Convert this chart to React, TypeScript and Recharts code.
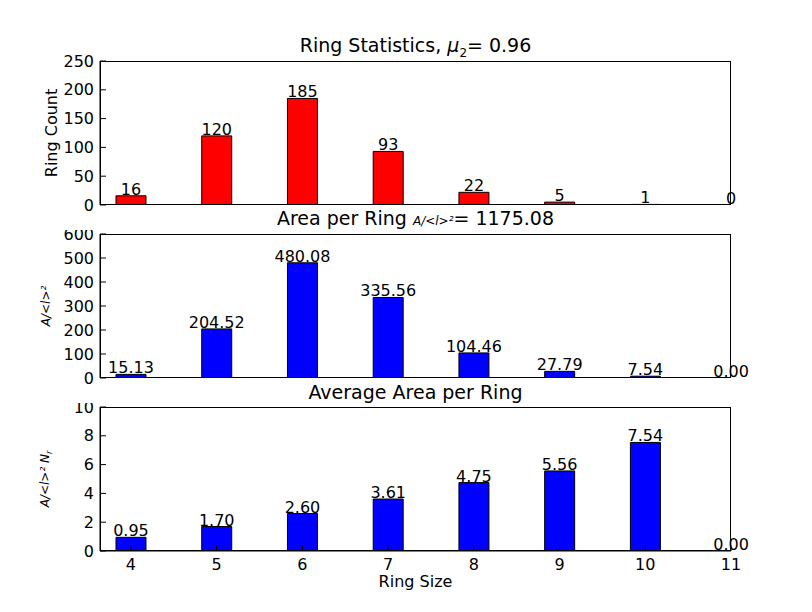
import { Bar, BarChart, LabelList, XAxis, YAxis } from 'recharts';

const ringSizes = [4, 5, 6, 7, 8, 9, 10, 11];
const ringCounts = [16, 120, 185, 93, 22, 5, 1, 0];
const areaPerRing = [15.13, 204.52, 480.08, 335.56, 104.46, 27.79, 7.54, 0.0];
const avgArea = [0.95, 1.7, 2.6, 3.61, 4.75, 5.56, 7.54, 0.0];

const countTicks = [0, 50, 100, 150, 200, 250];
const areaTicks = [0, 100, 200, 300, 400, 500, 600];
const avgTicks = [0, 2, 4, 6, 8, 10];

const FONT = '"DejaVu Sans", sans-serif';
const tickStyle = { fill: '#000', fontSize: 16, fontFamily: FONT };

type Row = { x: number; v: number };
const rows = (vals: number[]): Row[] => ringSizes.map((x, i) => ({ x, v: vals[i] }));

function Panel({
  data, top, height, mt, mb, ticks, max, color, fmt, showX,
}: {
  data: Row[]; top: number; height: number; mt: number; mb: number;
  ticks: number[]; max: number; color: string; fmt: (v: number) => string; showX: boolean;
}) {
  return (
    <div style={{ position: 'absolute', left: 0, top }}>
      <BarChart width={812} height={height} data={data} margin={{ top: mt, bottom: mb, left: 40, right: 81 }}>
        <XAxis
          dataKey="x" type="number" domain={[3.64, 11]} ticks={ringSizes} interval={0}
          allowDataOverflow stroke="#000" tickLine={showX} tick={showX ? tickStyle : false}
          height={showX ? 35 : 0} tickSize={-6} tickMargin={14}
        />
        <YAxis domain={[0, max]} ticks={ticks} interval={0} stroke="#000" tick={tickStyle} tickSize={-6}
          tickMargin={12} width={60} allowDataOverflow />
        <Bar dataKey="v" fill={color} stroke="#000" barSize={30} minPointSize={0.3} isAnimationActive={false}>
          <LabelList dataKey="v" position="top" offset={1} formatter={(v: any) => fmt(Number(v))}
            style={{ fill: '#000', fontSize: 16, fontFamily: FONT }} />
        </Bar>
      </BarChart>
    </div>
  );
}

const text = (s: React.CSSProperties) => ({
  position: 'absolute' as const, fontFamily: FONT, color: '#000', whiteSpace: 'nowrap' as const, ...s,
});

const frame = (top: number) => (
  <div style={{ position: 'absolute', left: 100, top, width: 631, height: 144, border: '1px solid #000',
    boxSizing: 'border-box', pointerEvents: 'none' }} />
);

export default function App() {
  return (
    <div style={{ position: 'absolute', left: 0, top: 0, width: 812, height: 612, background: '#fff' }}>
      <Panel data={rows(ringCounts)} top={0} height={230} mt={61} mb={25} ticks={countTicks}
        max={250} color="#ff0000" fmt={(v) => String(v)} showX={false} />
      <Panel data={rows(areaPerRing)} top={230} height={173} mt={4} mb={25} ticks={areaTicks}
        max={600} color="#0000ff" fmt={(v) => v.toFixed(2)} showX={false} />
      <Panel data={rows(avgArea)} top={403} height={209} mt={4} mb={26} ticks={avgTicks}
        max={10} color="#0000ff" fmt={(v) => v.toFixed(2)} showX />
      {frame(61)}
      {frame(234)}
      {frame(407)}
      <div style={text({ left: 0, width: 831, top: 34, textAlign: 'center', fontSize: 19 })}>
        Ring Statistics, <i>μ</i><sub style={{ fontSize: 12 }}>2</sub>= 0.96
      </div>
      <div style={text({ left: 0, width: 831, top: 207, textAlign: 'center', fontSize: 19 })}>
        Area per Ring <i style={{ fontSize: 12 }}>A/&lt;l&gt;²</i>= 1175.08
      </div>
      <div style={text({ left: 0, width: 831, top: 381, textAlign: 'center', fontSize: 19 })}>
        Average Area per Ring
      </div>
      <div style={text({ left: 0, width: 831, top: 572, textAlign: 'center', fontSize: 16 })}>Ring Size</div>
      <div style={text({ left: 51, top: 133, fontSize: 16, transform: 'translate(-50%,-50%) rotate(-90deg)' })}>
        Ring Count
      </div>
      <div style={text({ left: 46, top: 306, fontSize: 12, fontStyle: 'italic', transform: 'translate(-50%,-50%) rotate(-90deg)' })}>
        A/&lt;l&gt;²
      </div>
      <div style={text({ left: 46, top: 479, fontSize: 12, fontStyle: 'italic', transform: 'translate(-50%,-50%) rotate(-90deg)' })}>
        A/&lt;l&gt;² N<sub style={{ fontSize: 8 }}>r</sub>
      </div>
    </div>
  );
}
